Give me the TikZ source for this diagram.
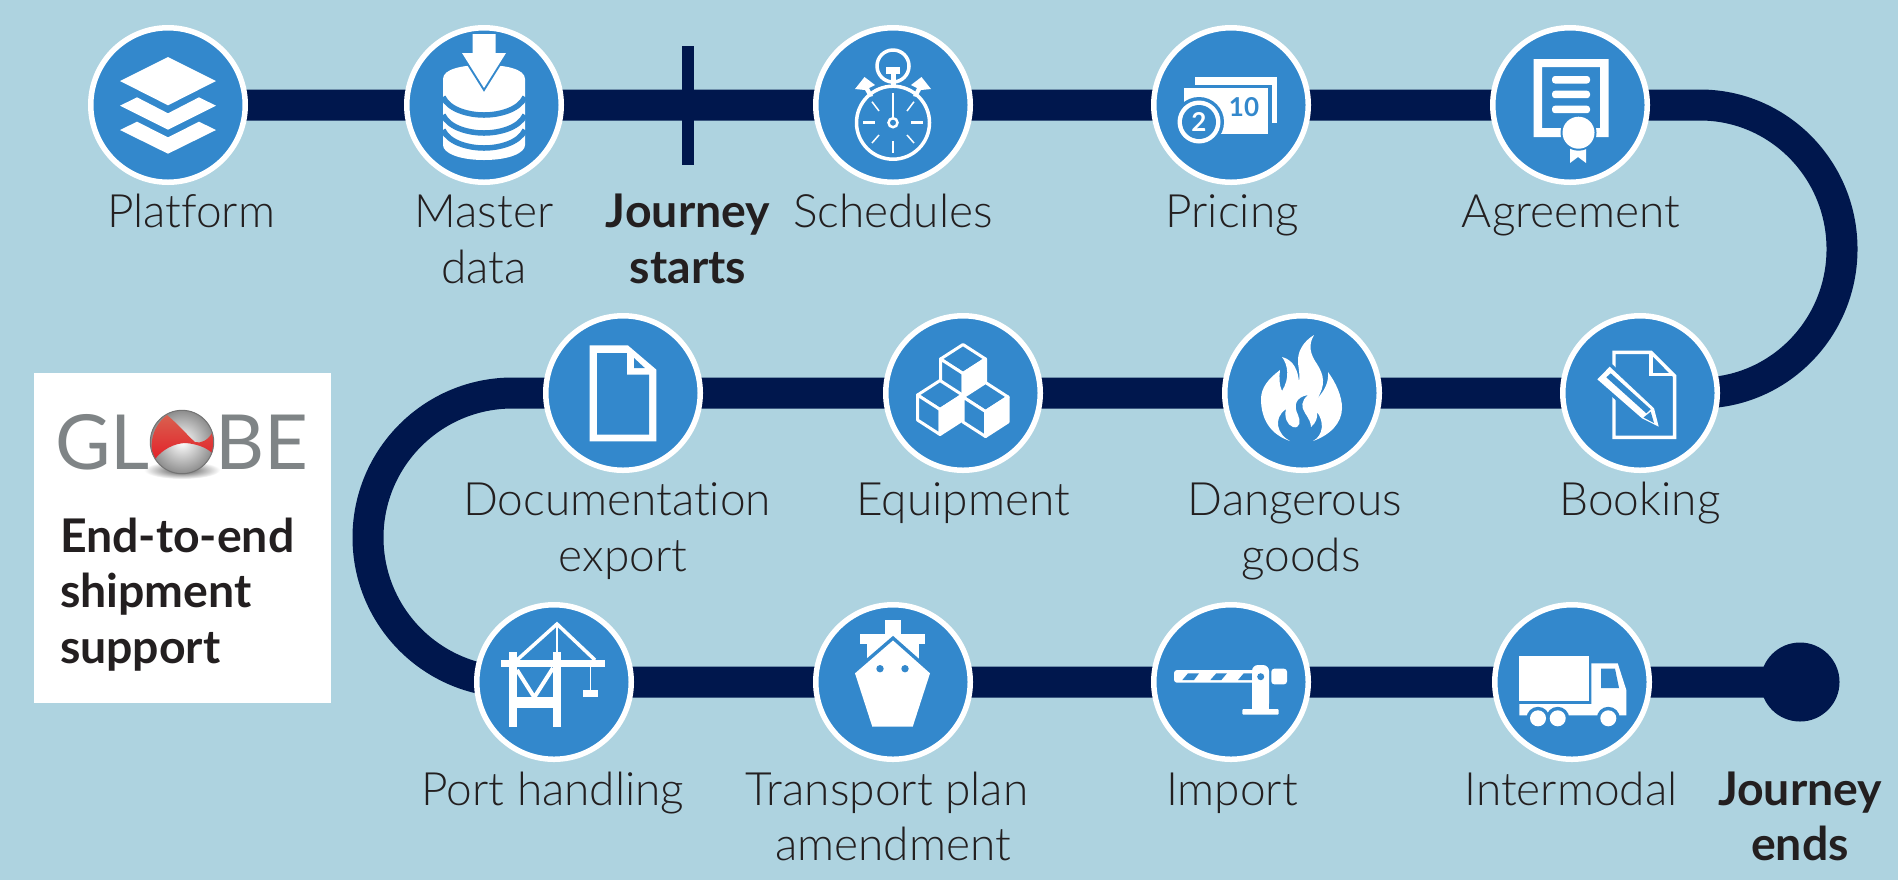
\documentclass[tikz,border=0pt]{standalone}
\usepackage{fontspec}
\setmainfont{Lato Light}[Ligatures={NoCommon}]
\newfontfamily\heavy{Lato Bold}[Ligatures={NoCommon}]
\newfontfamily\regf{Lato}
\usetikzlibrary{backgrounds}
\definecolor{bgc}{HTML}{AED3E0}
\definecolor{navy}{HTML}{00174D}
\definecolor{bluec}{HTML}{3388CC}
\definecolor{ink}{HTML}{231F20}
\definecolor{logogray}{HTML}{7F8486}
\definecolor{logored}{HTML}{E3222A}
\definecolor{logopale}{HTML}{D9604F}
\pgfdeclarelayer{under}
\pgfsetlayers{under,main}
\tikzset{
 x=0.5pt,y=-0.5pt,
 stopc/.style={circle,fill=bluec,draw=white,line width=2.75pt,minimum size=77.25pt,inner sep=0pt,outer sep=0pt},
 enddot/.style={circle,fill=navy,minimum size=39.5pt,inner sep=0pt,outer sep=0pt},
 route/.style={draw=navy,line width=15.5pt},
 tick/.style={draw=navy,line width=6pt},
 lab/.style={anchor=base,inner sep=0pt,outer sep=0pt,text=ink,font=\fontsize{23}{28}\selectfont},
 blab/.style={anchor=base,inner sep=0pt,outer sep=0pt,text=ink,font=\fontsize{23.2}{28}\selectfont\heavy},
 blabl/.style={blab,anchor=base west},
 logot/.style={lab,anchor=base west,text=logogray,font=\fontsize{38}{38}\selectfont\regf},
 wl/.style={draw=white,line width=#1*0.5pt},
 bl/.style={draw=bluec,line width=#1*0.5pt},
 halo/.style={fill=white,preaction={draw=bluec,line width=#1*0.5pt,line join=miter}},
 icontxt/.style={inner sep=0pt,outer sep=0pt,font=\heavy},
}
\newcommand{\mycube}[2]{%
 \begin{scope}[shift={(#1,#2)}]
  \filldraw[fill=bluec,wl=3,line join=round] (-22.5,0)--(0,14.5)--(22.5,0)--(0,-14.5)--cycle;
  \filldraw[fill=bluec,wl=3,line join=round] (-22.5,0)--(0,14.5)--(0,39.5)--(-22.5,25)--cycle;
  \filldraw[fill=white,wl=3,line join=round] (22.5,0)--(0,14.5)--(0,39.5)--(22.5,25)--cycle;
 \end{scope}}
\begin{document}
\begin{tikzpicture}
\useasboundingbox (0,0) rectangle (1898,880);
% stops
\node[stopc] (platform) at (168,105) {};
\node[stopc] (master) at (484,105) {};
\node[stopc] (schedules) at (893,105) {};
\node[stopc] (pricing) at (1231,105) {};
\node[stopc] (agreement) at (1570,105) {};
\node[stopc] (booking) at (1640,393) {};
\node[stopc] (dangerous) at (1302,393) {};
\node[stopc] (equipment) at (963,393) {};
\node[stopc] (documentation) at (623,393) {};
\node[stopc] (port) at (554,682) {};
\node[stopc] (transport) at (893,682) {};
\node[stopc] (import) at (1231,682) {};
\node[stopc] (intermodal) at (1572,682) {};
\node[enddot] (journeyend) at (1800,682) {};
\coordinate (tickA) at (688,46);
\coordinate (tickB) at (688,165);
\coordinate (curveA) at (1700,105);
\coordinate (curveB) at (512.5,393);
\begin{pgfonlayer}{under}
\fill[bgc] (0,0) rectangle (1898,880);
\draw[route] (platform.center)--(master.center)--(schedules.center)--(pricing.center)--(agreement.center)--(curveA) arc[start angle=-90,end angle=90,x radius=142,y radius=144]--(booking.center)--(dangerous.center)--(equipment.center)--(documentation.center)--(curveB) arc[start angle=-90,end angle=-270,radius=144.5]--(port.center)--(transport.center)--(import.center)--(intermodal.center)--(journeyend.center);
\draw[tick] (tickA)--(tickB);
\end{pgfonlayer}
% labels
\node[lab] (lPlatform) at (191,227) {Platform};
\node[lab] (lMaster) at (484,227) {Master};
\node[lab] (lData) at (484,283) {data};
\node[blab] (lJourney) at (688,227) {Journey};
\node[blab] (lStarts) at (688,283) {starts};
\node[lab] (lSchedules) at (893,227) {Schedules};
\node[lab] (lPricing) at (1232,227) {Pricing};
\node[lab] (lAgreement) at (1571,227) {Agreement};
\node[lab] (lDoc) at (617,515) {Documentation};
\node[lab] (lExport) at (623,571) {export};
\node[lab] (lEquip) at (963,515) {Equipment};
\node[lab] (lDanger) at (1295,515) {Dangerous};
\node[lab] (lGoods) at (1301,571) {goods};
\node[lab] (lBooking) at (1640,515) {Booking};
\node[lab] (lPort) at (553,805) {Port handling};
\node[lab] (lTransport) at (887,805) {Transport plan};
\node[lab] (lAmend) at (893,860) {amendment};
\node[lab] (lImport) at (1232,805) {Import};
\node[lab] (lInter) at (1571,805) {Intermodal};
\node[blab] (lJourney2) at (1800,805) {Journey};
\node[blab] (lEnds) at (1800,860) {ends};
% logo box
\fill[white] (34,373) rectangle (331,703);
\shade[inner color=black!70,outer color=white] (182,470) ellipse[x radius=38,y radius=9];
\node[logot] (logoGL) at (55,469) {GL};
\node[logot] (logoBE) at (215,469) {BE};
\begin{scope}[shift={(182,442)}]
 \shade[inner color=white,outer color=black!45] (0,0) circle[radius=31.7];
 \shade[top color=logopale,bottom color=logored] (-15,-27) .. controls (-2,-16) and (6,-6) .. (13,0) .. controls (19,2) and (26,-2) .. (30,-9) .. controls (32,-2) and (32,4) .. (30,11) .. controls (24,5) and (14,2) .. (4,1) .. controls (-8,1) and (-20,8) .. (-27,17) .. controls (-33,8) and (-32,-14) .. (-15,-27) -- cycle;
 \draw[black!55,line width=0.5pt] (0,0) circle[radius=31.7];
\end{scope}
\node[blabl] (bEnd) at (60,552) {End-to-end};
\node[blabl] (bShip) at (60,607) {shipment};
\node[blabl] (bSup) at (60,663) {support};
% platform
\begin{scope}[shift={(platform.center)}]
 \fill[white] (-48,-24)--(0,-48)--(48,-24)--(0,0.3)--cycle;
 \fill[white] (-48,0.7)--(-31,-7.7)--(0,8.3)--(31,-7.7)--(48,0.7)--(0,24.7)--cycle;
 \fill[white] (-48,25)--(-31,16.7)--(0,32.3)--(31,16.7)--(48,25)--(0,48.7)--cycle;
\end{scope}
% master data
\begin{scope}[shift={(master.center)}]
 \fill[white] (-41,-26) .. controls (-41,-36) and (-22,-40) .. (0,-40) .. controls (22,-40) and (41,-36) .. (41,-26) -- (41,40) .. controls (41,48) and (25,55) .. (0,55) .. controls (-25,55) and (-41,48) .. (-41,40) -- cycle;
 \foreach \k in {0,18,33}{
  \draw[bl=5.5] (-41,-8+\k) .. controls (-35,5+\k) and (-15,10+\k) .. (0,10+\k) .. controls (15,10+\k) and (35,5+\k) .. (41,-8+\k);
 }
 \path[halo=4] (-11.5,-71)--(11.5,-71)--(11.5,-52)--(22,-52)--(0,-17)--(-22,-52)--(-11.5,-52)--cycle;
\end{scope}
% schedules
\begin{scope}[shift={(schedules.center)}]
 \draw[wl=3.5] (0,17.7) circle[radius=36.5];
 \draw[wl=2.5] (0,17.7) circle[radius=4.5];
 \draw[wl=2] (0,-12)--(0,12);
 \draw[wl=2.5] (0,36)--(0,48) (-30,17.7)--(-18,17.7) (18,17.7)--(30,17.7);
 \draw[wl=1.5] (-21,-3.3)--(-14,6) (21,-3.3)--(14,6) (-21,38)--(-14,30) (21,38)--(14,30);
 \draw[wl=3.5] (0,-39) circle[radius=16];
 \fill[white] (-7,-38)rectangle(7,-31);
 \fill[white] (-2.5,-32)rectangle(2.5,-19);
 \fill[white] (-28.5,-28)--(-18,-20)--(-24,-17)--(-20,-9)--(-24,-8)--(-28,-15)--(-38,-16)--cycle;
 \fill[white] (28.5,-28)--(18,-20)--(24,-17)--(20,-9)--(24,-8)--(28,-15)--(38,-16)--cycle;
\end{scope}
% pricing
\begin{scope}[shift={(pricing.center)}]
 \fill[white] (-36,-28)rectangle(46,18);
 \fill[bluec] (-42,-20)rectangle(41,24);
 \fill[white] (-47,-17)rectangle(37,29);
 \fill[bluec] (-32,17) circle[radius=25];
 \fill[white] (-32,17) circle[radius=21.5];
 \fill[bluec] (-32,17) circle[radius=17];
 \node[icontxt,text=white,font=\fontsize{13}{13}\selectfont\heavy] (priceTwo) at (-32,17) {2};
 \node[icontxt,text=bluec,font=\fontsize{13}{13}\selectfont\heavy] (priceTen) at (13,2) {10};
\end{scope}
% agreement
\begin{scope}[shift={(agreement.center)}]
 \fill[white,even odd rule] (-36.5,-46)rectangle(38.5,32) (-28,-38)rectangle(30,23);
 \foreach \yy in {-29,-14.3,0.7}{\fill[white,rounded corners=1.5pt] (-18,\yy)rectangle(20,\yy+7.5);}
 \fill[white] (0,38)--(16,38)--(16,58)--(8,52)--(0,58)--cycle;
 \path[halo=4] (8.5,27.7) circle[radius=16];
\end{scope}
% booking
\begin{scope}[shift={(booking.center)}]
 \draw[wl=3.4,line join=miter] (-26,-40.7)--(11,-40.7)--(34.6,-17)--(34.6,44.3)--(-26,44.3)--cycle;
 \draw[wl=3.4] (11,-40.7)--(11,-18.5)--(34,-18.5);
 \path[halo=7] (-42.7,-13.7)--(-30.3,-26.3)--(14,15.3)--(18.7,33.7)--(2,25.3)--cycle;
 \fill[bluec] (-33.7,-15.7)--(-29.3,-19.7)--(10.7,16.3)--(6.3,20.3)--cycle;
 \fill[bluec] (3.5,24.5)--(10.7,18.7)--(14,30)--cycle;
\end{scope}
% dangerous goods
\begin{scope}[shift={(dangerous.center)}]
 \fill[white] (12,-58) .. controls (2,-52) and (-5,-42) .. (-4,-30) .. controls (-3,-22) and (-2,-17) .. (-3,-11) .. controls (-4,-22) and (-8,-33) .. (-20,-36) .. controls (-14,-28) and (-12,-15) .. (-20,-2) .. controls (-23,-8) and (-23,-16) .. (-22,-23) .. controls (-34,-14) and (-41,-5) .. (-41,6) .. controls (-41,28) and (-30,42) .. (-12,48) .. controls (-24,42) and (-30,26) .. (-16,16) .. controls (-18,24) and (-15,32) .. (-9,34) .. controls (-2,36) and (-1,28) .. (-4,22) .. controls (-9,12) and (-6,4) .. (6,2) .. controls (-1,8) and (-1,14) .. (3,20) .. controls (7,26) and (9,30) .. (9,34) .. controls (14,30) and (16,24) .. (15,19) .. controls (22,28) and (22,42) .. (11,48) .. controls (28,42) and (40,30) .. (40,15) .. controls (40,3) and (34,-10) .. (26,-21) .. controls (27,-10) and (22,-2) .. (15,6) .. controls (24,-8) and (22,-18) .. (15,-29) .. controls (8,-39) and (6,-48) .. (12,-58) -- cycle;
\end{scope}
% equipment
\begin{scope}[shift={(equipment.center)}]
 \mycube{0}{-34}
 \mycube{-23}{2}
 \mycube{22.5}{4}
\end{scope}
% documentation
\begin{scope}[shift={(documentation.center)}]
 \fill[white] (-33.4,-47.7)--(4.8,-47.7)--(33.4,-23.3)--(33.4,48.3)--(-33.4,48.3)--cycle;
 \fill[bluec] (-26,-40)--(3.9,-40)--(3.9,-18.3)--(26,-18.3)--(26,41.7)--(-26,41.7)--cycle;
 \fill[bluec] (11,-35)--(11,-25)--(21.8,-25)--cycle;
\end{scope}
% port handling
\begin{scope}[shift={(port.center)}]
 \fill[white] (-52.7,-22)rectangle(51.3,-14.7);
 \fill[white] (-45.3,-29.7)rectangle(-37,44.7);
 \fill[white] (-0.7,-29.7)rectangle(7,44.7);
 \fill[white] (-37,15.3)rectangle(-0.7,26.3);
 \draw[wl=4] (-37,-12)--(-19.7,15.3)--(-1,-14);
 \draw[wl=3.5] (-37,-22)--(3,-58)--(41,-22);
 \draw[wl=2] (3,-58)--(3,-22);
 \draw[wl=1.5] (36.3,-15)--(36.3,8);
 \fill[white] (29,8)rectangle(44,15);
\end{scope}
% transport plan
\begin{scope}[shift={(transport.center)}]
 \fill[white] (-8,-62)rectangle(7.7,-45);
 \fill[white] (-32.7,-48)rectangle(32,-37.7);
 \fill[white] (-26.3,-40)rectangle(26,-10);
 \path[halo=7] (0,-41.5)--(37,-8.7)--(19.7,44.7)--(-20.7,44.7)--(-38,-8.7)--cycle;
 \fill[bluec] (-13,-13.3) circle[radius=3.7] (12,-13.3) circle[radius=3.7];
\end{scope}
% import
\begin{scope}[shift={(import.center)}]
 \fill[white,rounded corners=1.5pt] (-57,-12)rectangle(24,0.7);
 \fill[bluec] (-43,-8.7)--(-32,-8.7)--(-37,-2)--(-48.7,-2)--cycle;
 \fill[bluec] (-14.7,-8.7)--(-4,-8.7)--(-9.7,-2)--(-20.7,-2)--cycle;
 \fill[bluec] (12.7,-8.7)--(21.3,-8.7)--(21.3,-2)--(7,-2)--cycle;
 \fill[white,rounded corners=3pt] (21,27.5)--(21,-17)--(38,-17)--(38,27.5)--cycle;
 \fill[white] (21,10)rectangle(38,28);
 \fill[white,rounded corners=0.5pt] (11.3,27)rectangle(47.7,32.7);
 \fill[white,rounded corners=1.5pt] (40.3,-13.3)rectangle(56,2.3);
 \fill[bluec] (29.7,-5.3) circle[radius=3.5];
\end{scope}
% intermodal
\begin{scope}[shift={(intermodal.center)}]
 \fill[white] (-52.7,-26)rectangle(16.7,18.7);
 \fill[white] (-52.7,22)--(19.3,22)--(19.3,-18.7)--(45.7,-18.7)--(54.3,8)--(54.3,33.3)--(-52.7,33.3)--cycle;
 \fill[bluec] (29,-13.3)--(43,-13.3)--(47,6)--(29,6)--cycle;
 \foreach \wx in {-34,-14.3,36.3}{\fill[bluec] (\wx,36.3) circle[radius=11.5];}
 \foreach \wx in {-34,-14.3,36.3}{\fill[white] (\wx,36.3) circle[radius=8];}
\end{scope}
\end{tikzpicture}
\end{document}
